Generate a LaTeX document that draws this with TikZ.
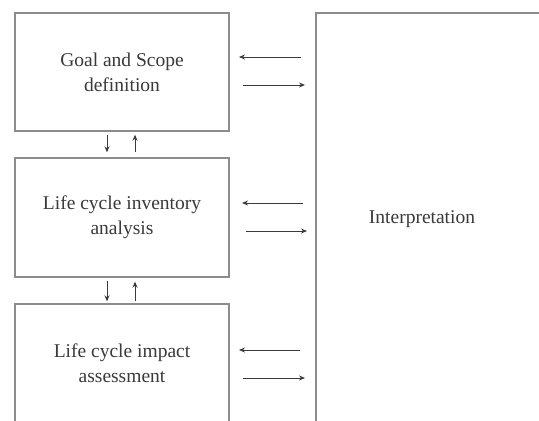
\documentclass[tikz,border=0pt]{standalone}
\usepackage{fontspec}
\setmainfont{Liberation Serif}
\usetikzlibrary{arrows.meta}
\definecolor{boxline}{HTML}{8C8C8C}
\definecolor{txt}{HTML}{3A3A3A}
\tikzset{
  box/.style={draw=boxline, line width=1.4pt, minimum width=214pt, align=center,
    text=txt, font=\fontsize{19.5}{25}\selectfont, inner sep=0pt},
  arr/.style={draw=txt, line width=0.9pt, -{Stealth[length=6pt,width=5pt]}},
  lbl/.style={text=txt, font=\fontsize{19.5}{25}\selectfont, inner sep=0pt}
}
\begin{document}
\begin{tikzpicture}[x=1pt,y=-1pt]
\useasboundingbox (0,0) rectangle (539,421);
\fill[white] (0,0) rectangle (539,421);
\node[box, minimum height=118pt] (g) at (122,72) {Goal and Scope\\definition};
\node[box, minimum height=119pt] (inv) at (122,217.5) {Life cycle inventory\\analysis};
\node[box, minimum height=119pt] (imp) at (122,363.5) {Life cycle impact\\assessment};
\draw[draw=boxline, line width=1.4pt] (545,13) -- (316,13) -- (316,430);
\node[lbl] (interp) at (422,219) {Interpretation};
% coordinates on the interpretation side
\coordinate (i1a) at (301,57);  \coordinate (g1a) at (239,57);
\coordinate (g1b) at (243,85);  \coordinate (i1b) at (305,85);
\coordinate (i2a) at (303,203); \coordinate (g2a) at (242,203);
\coordinate (g2b) at (246,231); \coordinate (i2b) at (307,231);
\coordinate (i3a) at (300,350); \coordinate (g3a) at (239,350);
\coordinate (g3b) at (243,378); \coordinate (i3b) at (305,378);
\draw[arr] (i1a) -- (g1a);
\draw[arr] (g1b) -- (i1b);
\draw[arr] (i2a) -- (g2a);
\draw[arr] (g2b) -- (i2b);
\draw[arr] (i3a) -- (g3a);
\draw[arr] (g3b) -- (i3b);
% vertical arrows
\draw[arr] ([xshift=-15pt,yshift=-3pt]g.south) -- ([xshift=-15pt,yshift=5pt]inv.north);
\draw[arr] ([xshift=13pt,yshift=5pt]inv.north) -- ([xshift=13pt,yshift=-3pt]g.south);
\draw[arr] ([xshift=-15pt,yshift=-3pt]inv.south) -- ([xshift=-15pt,yshift=2pt]imp.north);
\draw[arr] ([xshift=13pt,yshift=2pt]imp.north) -- ([xshift=13pt,yshift=-4pt]inv.south);
\end{tikzpicture}
\end{document}
